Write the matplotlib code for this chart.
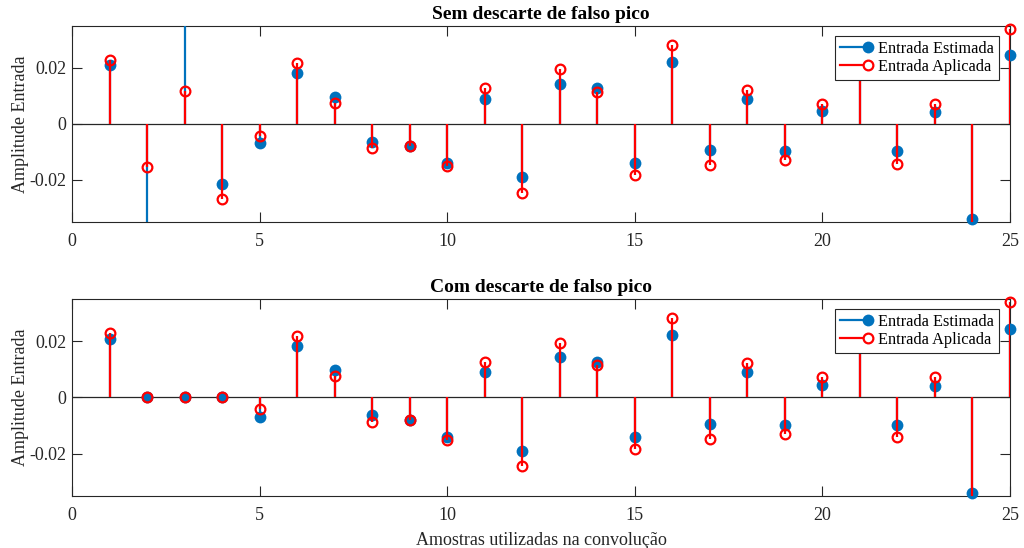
import numpy as np
import matplotlib
matplotlib.use("Agg")
import matplotlib.pyplot as plt
from matplotlib.lines import Line2D
from matplotlib.legend_handler import HandlerBase

plt.rcParams['font.family'] = ['Liberation Serif', 'DejaVu Serif']

amostras = np.arange(1, 26)

# Sem descarte: amostras 2 e 3 da estimativa saem da escala
estimada_sem = [0.0209, -0.0500, 0.0500, -0.0214, -0.0069, 0.0183, 0.0096, -0.0063, -0.0079, -0.0140,
                0.0091, -0.0189, 0.0143, 0.0127, -0.0140, 0.0221, -0.0093, 0.0089, -0.0096, 0.0045,
                0.0240, -0.0096, 0.0042, -0.0339, 0.0245]
aplicada_sem = [0.0228, -0.0155, 0.0118, -0.0268, -0.0042, 0.0219, 0.0076, -0.0087, -0.0080, -0.0150,
                0.0127, -0.0245, 0.0195, 0.0114, -0.0182, 0.0281, -0.0148, 0.0123, -0.0130, 0.0073,
                0.0260, -0.0142, 0.0073, -0.0400, 0.0340]

# Com descarte: amostras 2 a 4 zeradas
estimada_com = [0.0209, 0.0, 0.0, 0.0, -0.0069, 0.0183, 0.0096, -0.0063, -0.0079, -0.0140,
                0.0091, -0.0189, 0.0143, 0.0127, -0.0140, 0.0221, -0.0093, 0.0089, -0.0096, 0.0045,
                0.0240, -0.0096, 0.0042, -0.0339, 0.0245]
aplicada_com = [0.0228, 0.0, 0.0, 0.0, -0.0042, 0.0219, 0.0076, -0.0087, -0.0080, -0.0150,
                0.0127, -0.0245, 0.0195, 0.0114, -0.0182, 0.0281, -0.0148, 0.0123, -0.0130, 0.0073,
                0.0260, -0.0142, 0.0073, -0.0400, 0.0340]

AZUL = '#0072BD'
VERMELHO = '#FF0000'
CINZA = '#262626'
YLIM = (-0.035, 0.035)


class HandlerStemMatlab(HandlerBase):
    # linha com o marcador na ponta direita, como no legend do MATLAB
    def create_artists(self, legend, orig, xdescent, ydescent, width, height, fontsize, trans):
        y = height / 2 - ydescent
        linha = Line2D([-xdescent, width - xdescent], [y, y], color=orig.get_color(),
                       lw=orig.get_linewidth(), transform=trans)
        marca = Line2D([width - xdescent], [y], linestyle='none', marker='o',
                       markersize=orig.get_markersize(), markerfacecolor=orig.get_markerfacecolor(),
                       markeredgecolor=orig.get_markeredgecolor(), markeredgewidth=orig.get_markeredgewidth(),
                       transform=trans)
        return [linha, marca]


def desenha_stem(ax, x, y, cor, cheio):
    y = np.asarray(y)
    ax.vlines(x, 0, y, colors=cor, linewidth=1.6, zorder=3 if cheio else 4)
    # marcadores fora da escala ficam escondidos, os de dentro nao sao cortados pela borda
    visivel = np.where((y >= YLIM[0]) & (y <= YLIM[1]), y, np.nan)
    if cheio:
        ax.plot(x, visivel, linestyle='none', marker='o', markersize=8.5, color=cor,
                markeredgewidth=0, clip_on=False, zorder=3)
    else:
        ax.plot(x, visivel, linestyle='none', marker='o', markersize=7, markerfacecolor='none',
                markeredgecolor=cor, markeredgewidth=1.6, clip_on=False, zorder=4)


def painel(ax, estimada, aplicada, titulo):
    ax.axhline(0, color=CINZA, linewidth=0.9, zorder=2)
    desenha_stem(ax, amostras, estimada, AZUL, True)
    desenha_stem(ax, amostras, aplicada, VERMELHO, False)
    ax.set_xlim(0, 25)
    ax.set_ylim(*YLIM)
    ax.set_xticks([0, 5, 10, 15, 20, 25])
    ax.set_yticks([-0.02, 0, 0.02])
    ax.set_yticklabels(['-0.02', '0', '0.02'])
    ax.tick_params(direction='in', top=True, right=True, length=7, width=0.8,
                   labelsize=13, colors=CINZA, labelcolor=CINZA)
    ax.tick_params(axis='x', pad=8)
    ax.tick_params(axis='y', pad=4)
    for s in ax.spines.values():
        s.set_color(CINZA)
        s.set_linewidth(0.8)
    ax.set_title(titulo, fontsize=14, fontweight='bold', pad=5)
    ax.set_ylabel('Amplitude Entrada', fontsize=13, color=CINZA, labelpad=0)

    h_est = Line2D([], [], color=AZUL, lw=1.6, marker='o', markersize=8.5,
                   markerfacecolor=AZUL, markeredgecolor=AZUL, markeredgewidth=0)
    h_apl = Line2D([], [], color=VERMELHO, lw=1.6, marker='o', markersize=7,
                   markerfacecolor='white', markeredgecolor=VERMELHO, markeredgewidth=1.6)
    leg = ax.legend([h_est, h_apl], ['Entrada Estimada', 'Entrada Aplicada'],
                    handler_map={Line2D: HandlerStemMatlab()},
                    loc='upper right', bbox_to_anchor=(0.988, 0.948), fontsize=11.7,
                    fancybox=False, framealpha=1, edgecolor=CINZA, handlelength=1.75,
                    handletextpad=0.6, borderpad=0.3, labelspacing=0.12, borderaxespad=0)
    leg.get_frame().set_linewidth(0.8)
    leg.set_zorder(10)


fig = plt.figure(figsize=(10.24, 5.48), dpi=100)
ax1 = fig.add_axes([0.0703, 0.5949, 0.916, 0.3577])
ax2 = fig.add_axes([0.0703, 0.0949, 0.916, 0.3595])

painel(ax1, estimada_sem, aplicada_sem, 'Sem descarte de falso pico')
painel(ax2, estimada_com, aplicada_com, 'Com descarte de falso pico')
ax2.set_xlabel('Amostras utilizadas na convolução', fontsize=13, color=CINZA, labelpad=6)

fig.savefig('out.png', dpi=100)
